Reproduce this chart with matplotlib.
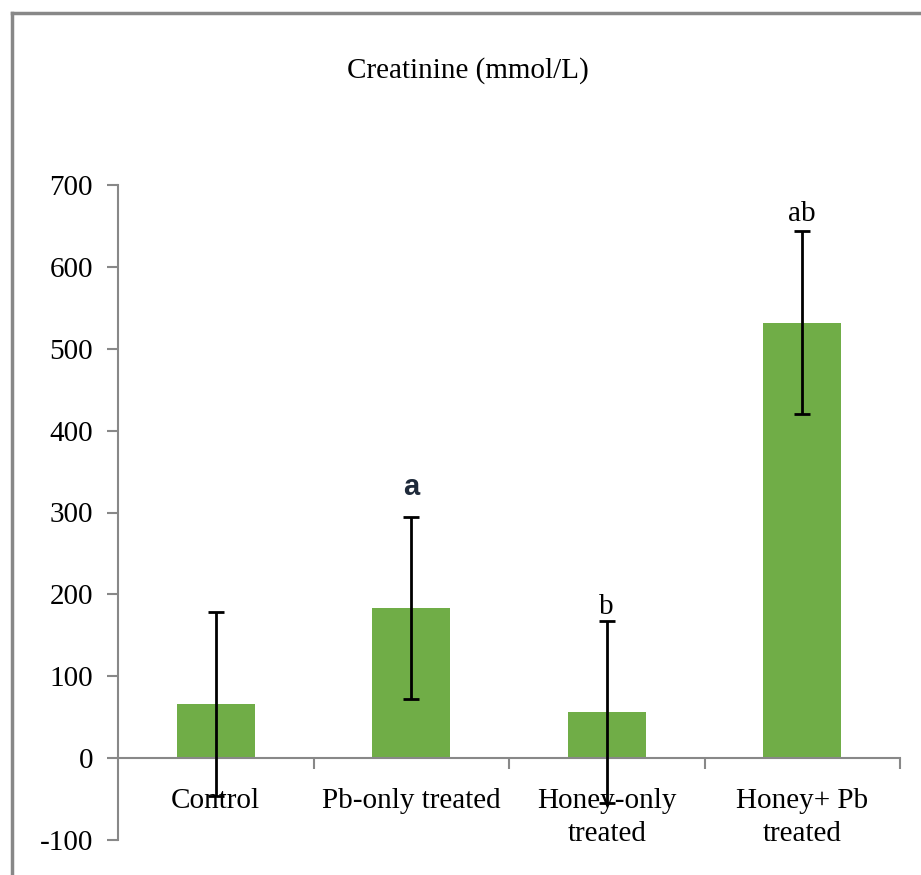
import matplotlib.pyplot as plt
from matplotlib.lines import Line2D

# Data
groups = ['Control', 'Pb-only treated', 'Honey-only\ntreated', 'Honey+ Pb\ntreated']
creatinine = [66, 183, 56, 532]
errors = [112, 111, 111, 112]
letters = ['', 'a', 'b', 'ab']
letter_y = [0, 333, 187, 667]

plt.rcParams['font.family'] = ['Liberation Serif', 'DejaVu Serif']
plt.rcParams['axes.unicode_minus'] = False

fig = plt.figure(figsize=(9.21, 8.75), dpi=100)
ax = fig.add_axes([118 / 921, 1 - 840 / 875, 782 / 921, 655 / 875])

x = list(range(len(groups)))
ax.bar(x, creatinine, width=0.4, color='#70AD47', zorder=2)
ax.errorbar(x, creatinine, yerr=errors, fmt='none', ecolor='black',
            elinewidth=2, capsize=6, capthick=2, zorder=3)

ax.set_xlim(-0.5, 3.5)
ax.set_ylim(-100, 700)
ax.set_yticks(range(-100, 701, 100))
ax.tick_params(axis='y', labelsize=21, length=8, width=1.5, color='#888888', pad=10)

for s in ['top', 'right']:
    ax.spines[s].set_visible(False)
ax.spines['left'].set_color('#888888')
ax.spines['left'].set_linewidth(1.5)
ax.spines['bottom'].set_position(('data', 0))
ax.spines['bottom'].set_color('#888888')
ax.spines['bottom'].set_linewidth(1.5)
ax.set_xticks([0.5, 1.5, 2.5, 3.5])
ax.set_xticklabels([])
ax.tick_params(axis='x', length=8, width=1.5, color='#888888', direction='out')

for i, g in enumerate(groups):
    ax.text(i, -37, g, ha='center', va='top', fontsize=21, linespacing=1.35)

for i, (lab, ly) in enumerate(zip(letters, letter_y)):
    if lab == 'a':
        ax.text(i, ly - 2, lab, ha='center', va='center', fontsize=21,
                fontweight='bold', family=['Liberation Sans', 'DejaVu Sans'], color='#1f2a3a')
    elif lab:
        ax.text(i, ly - 2, lab, ha='center', va='center', fontsize=21)

fig.text(468 / 921, 1 - 71 / 875, 'Creatinine (mmol/L)', ha='center', va='center', fontsize=21)

# outer chart frame (left and top edges visible)
fig.add_artist(Line2D([12 / 921, 12 / 921], [0, 1 - 13 / 875], color='#888888', lw=2.5,
                      transform=fig.transFigure))
fig.add_artist(Line2D([12 / 921, 1], [1 - 13 / 875, 1 - 13 / 875], color='#888888', lw=2.5,
                      transform=fig.transFigure))

fig.savefig('out.png', dpi=100)
